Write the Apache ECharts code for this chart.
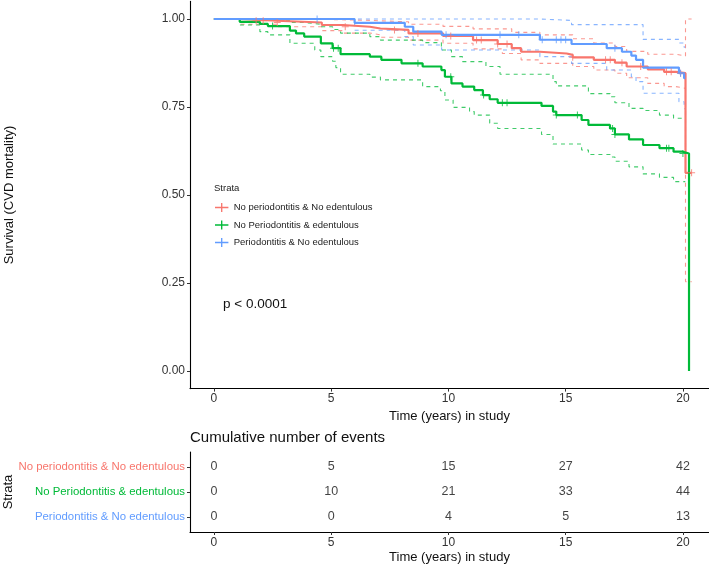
<!DOCTYPE html>
<html>
<head>
<meta charset="utf-8">
<script src="https://cdn.jsdelivr.net/npm/echarts@6/dist/echarts.min.js"></script>
<style>html,body{margin:0;padding:0;background:#fff}#c{width:709px;height:566px}</style>
</head>
<body>
<div id="c"></div>
<script>
// ---------------- data ----------------
const groupNames = ['No periodontitis & No edentulous', 'No Periodontitis & edentulous', 'Periodontitis & No edentulous'];
const groupColors = ['#F8766D', '#00BA38', '#619CFF'];

// Kaplan-Meier step curves: [time, survival]
const redCurve = [[0,1],[1.1,0.995],[2.67,0.990],[4.6,0.983],[5.5,0.978],[6.65,0.973],[7.1,0.969],[8.3,0.959],[9.77,0.952],[11.05,0.940],[12.1,0.929],[12.7,0.917],[13.1,0.907],[13.9,0.902],[15.04,0.898],[15.3,0.891],[16.2,0.884],[17.1,0.876],[17.6,0.865],[18.5,0.857],[19.2,0.850],[19.7,0.846],[20.11,0.563],[20.37,0.563]];
const redUpper = [[0,1],[2.67,0.999],[4.6,0.996],[6.65,0.992],[8.3,0.985],[9.77,0.979],[11.05,0.972],[12.7,0.962],[13.9,0.955],[15.3,0.944],[16.2,0.932],[17.1,0.922],[17.6,0.908],[18.5,0.900],[19.7,0.895],[20.11,1.0],[20.37,1.0]];
const redLower = [[0,1],[1.1,0.985],[2.67,0.978],[4.6,0.967],[5.5,0.960],[6.65,0.955],[7.1,0.948],[8.3,0.940],[9.77,0.931],[11.05,0.915],[12.3,0.902],[13.1,0.884],[13.9,0.874],[15.3,0.865],[16.2,0.855],[17.1,0.846],[17.6,0.833],[18.5,0.817],[19.2,0.808],[19.7,0.803],[20.11,0.254],[20.37,0.254]];
const redCensor = [1.8,2.1,2.7,5.6,7.7,8.7,10.1,11.2,11.4,12.1,12.5,15.3,16.7,16.9,17.4,18.2,19.3,19.5,19.9,20.37];

const greenCurve = [[0,1],[1.1,0.992],[1.96,0.986],[2.3,0.980],[3.24,0.967],[3.5,0.959],[3.85,0.950],[4.56,0.931],[5.06,0.917],[5.4,0.900],[6.65,0.893],[7.14,0.884],[8.0,0.874],[8.9,0.865],[9.7,0.855],[9.85,0.836],[10.13,0.817],[10.6,0.808],[11.1,0.798],[11.47,0.784],[11.76,0.772],[12.1,0.762],[13.97,0.753],[14.46,0.737],[14.6,0.727],[15.68,0.713],[15.97,0.699],[16.89,0.689],[17.1,0.672],[17.7,0.658],[18.3,0.642],[19.0,0.633],[19.6,0.623],[20.0,0.618],[20.26,0]];
const greenUpper = [[0,1],[1.1,0.999],[2.3,0.996],[3.24,0.990],[3.85,0.985],[4.56,0.978],[5.06,0.970],[5.4,0.960],[6.65,0.950],[7.1,0.940],[8.9,0.933],[9.7,0.912],[10.13,0.893],[10.6,0.879],[11.6,0.865],[12.2,0.843],[14.46,0.822],[14.6,0.810],[15.97,0.788],[16.89,0.779],[17.1,0.762],[17.7,0.746],[18.3,0.740],[19.0,0.727],[19.6,0.718],[20.1,0.718]];
const greenLower = [[0,1],[1.1,0.983],[1.96,0.964],[2.3,0.955],[3.24,0.931],[4.3,0.912],[4.56,0.893],[5.06,0.880],[5.2,0.862],[5.4,0.843],[6.65,0.835],[7.1,0.827],[8.9,0.808],[9.66,0.796],[9.85,0.770],[10.2,0.749],[10.9,0.737],[11.1,0.727],[11.76,0.704],[12.1,0.689],[13.97,0.672],[14.46,0.645],[15.68,0.628],[15.97,0.615],[16.89,0.608],[17.1,0.596],[17.7,0.580],[18.3,0.560],[19.0,0.550],[19.6,0.538],[20.1,0.538]];
const greenCensor = [2.5,5.1,5.3,8.7,10.1,11.5,12.3,12.5,14.6,15.5,17.0,17.1,19.3,19.4,20.0];

const blueCurve = [[0,1],[6.0,0.989],[8.14,0.978],[8.5,0.964],[9.71,0.955],[13.9,0.941],[15.25,0.929],[16.75,0.917],[17.4,0.907],[17.8,0.896],[18.0,0.884],[18.3,0.862],[19.83,0.846],[20.05,0.832],[20.1,0.832]];
const blueUpper = [[0,1],[13.9,0.996],[15.25,0.984],[18.3,0.942],[19.83,0.932],[20.05,0.920],[20.1,0.920]];
const blueLower = [[0,1],[6.0,0.968],[8.14,0.950],[8.5,0.926],[9.71,0.912],[13.9,0.893],[15.25,0.874],[16.75,0.855],[17.8,0.836],[18.0,0.822],[18.3,0.789],[19.83,0.765],[20.05,0.745],[20.1,0.745]];
const blueCensor = [4.4,9.9,12.2,13.0,14.0,14.6,14.8,15.0,17.1,19.9];

// risk table (cumulative number of events)
const tableTimes = [0,5,10,15,20];
const redEvents = [0,5,15,27,42];
const greenEvents = [0,10,21,33,44];
const blueEvents = [0,0,4,5,13];

const xTicks = [0,5,10,15,20];
const yTicks = [0,0.25,0.5,0.75,1];

// ---------------- chart ----------------
const FONT = '"Liberation Sans", Arial, sans-serif';
const X_MIN = -1.02, X_MAX = 21.112;
const PLUS = 'path://M3,0h1v7h-1zM0,3h7v1h-7z';
const LEG_ICON = 'path://M0,4h14v1.4h-14zM6.3,0h1.4v9.4h-1.4z';

function stepAt(curve, t) {
  let v = curve[0][1];
  for (const p of curve) { if (p[0] <= t) v = p[1]; }
  return v;
}

const curves = [
  {solid: redCurve, up: redUpper, lo: redLower, cens: redCensor},
  {solid: greenCurve, up: greenUpper, lo: greenLower, cens: greenCensor},
  {solid: blueCurve, up: blueUpper, lo: blueLower, cens: blueCensor}
];
const events = [redEvents, greenEvents, blueEvents];

const series = [];
curves.forEach((c, i) => {
  ['up','lo'].forEach(k => series.push({
    type: 'line', name: groupNames[i] + ' CI ' + k, step: 'end', showSymbol: false,
    xAxisIndex: 0, yAxisIndex: 0, data: c[k], z: 2, silent: true,
    lineStyle: {color: groupColors[i], width: 1.1, type: [4, 4], opacity: 0.75}
  }));
});
curves.forEach((c, i) => {
  series.push({
    type: 'line', name: groupNames[i], step: 'end', showSymbol: false,
    xAxisIndex: 0, yAxisIndex: 0, data: c.solid, z: 3,
    color: groupColors[i],
    lineStyle: {color: groupColors[i], width: 2.2}
  });
  series.push({
    type: 'scatter', name: groupNames[i], xAxisIndex: 0, yAxisIndex: 0, z: 4,
    symbol: PLUS, symbolSize: 7, itemStyle: {color: groupColors[i]},
    data: c.cens.map(t => [t, stepAt(c.solid, t)])
  });
});
events.forEach((ev, i) => {
  series.push({
    type: 'scatter', name: 'table ' + i, xAxisIndex: 1, yAxisIndex: 1, symbolSize: 0,
    data: tableTimes.map((t, j) => [t, i + 1, ev[j]]),
    label: {show: true, position: 'inside', formatter: p => String(p.value[2]),
      fontSize: 12.5, color: '#111', fontFamily: FONT}
  });
});

function xAxis(gridIndex, margin, nameGap) {
  return {
    type: 'value', gridIndex, min: X_MIN, max: X_MAX,
    axisLine: {show: true, onZero: false, lineStyle: {color: '#000', width: 1.1}},
    axisTick: {show: true, length: 3, customValues: xTicks, lineStyle: {color: '#333'}},
    axisLabel: {customValues: xTicks, margin: margin, fontSize: 12, color: '#333', fontFamily: FONT},
    splitLine: {show: false},
    name: 'Time (years) in study', nameLocation: 'middle', nameGap: nameGap,
    nameTextStyle: {fontSize: 13, color: '#111', fontFamily: FONT}
  };
}

const chart = echarts.init(document.getElementById('c'), null, {renderer: 'canvas'});
chart.setOption({
  animation: false,
  backgroundColor: '#fff',
  grid: [
    {left: 190, top: 1.4, width: 519, height: 387.2, outerBoundsMode: 'none', containLabel: false},
    {left: 190, top: 452, width: 519, height: 80, outerBoundsMode: 'none', containLabel: false}
  ],
  xAxis: [xAxis(0, 4, 16.5), xAxis(1, 5, 19)],
  yAxis: [
    {
      type: 'value', gridIndex: 0, min: -0.05, max: 1.05,
      axisLine: {show: true, onZero: false, lineStyle: {color: '#000', width: 1.1}},
      axisTick: {show: true, length: 3, customValues: yTicks, lineStyle: {color: '#333'}},
      axisLabel: {customValues: yTicks, margin: 5, fontSize: 12, color: '#333', fontFamily: FONT,
        formatter: v => Number(v).toFixed(2)},
      splitLine: {show: false},
      name: 'Survival (CVD mortality)', nameLocation: 'middle', nameGap: 174, nameRotate: 90,
      nameTextStyle: {fontSize: 13, color: '#111', fontFamily: FONT}
    },
    {
      type: 'value', gridIndex: 1, min: 0.4, max: 3.6, inverse: true,
      axisLine: {show: true, onZero: false, lineStyle: {color: '#000', width: 1.1}},
      axisTick: {show: true, length: 3, customValues: [1,2,3], lineStyle: {color: '#333'}},
      axisLabel: {customValues: [1,2,3], margin: 5, fontFamily: FONT,
        formatter: v => '{g' + (Math.round(v) - 1) + '|' + groupNames[Math.round(v) - 1] + '}',
        rich: {
          g0: {color: groupColors[0], fontSize: 11.4, fontFamily: FONT},
          g1: {color: groupColors[1], fontSize: 11.4, fontFamily: FONT},
          g2: {color: groupColors[2], fontSize: 11.4, fontFamily: FONT}
        }},
      splitLine: {show: false}
    }
  ],
  legend: {
    orient: 'vertical', left: 215, top: 202.5, padding: 0, itemWidth: 14, itemHeight: 9, itemGap: 7.5,
    selectedMode: false,
    data: groupNames.map((n, i) => ({name: n, icon: LEG_ICON, itemStyle: {color: groupColors[i]}})),
    textStyle: {fontSize: 9.5, color: '#222', fontFamily: FONT, padding: [0, 0, 0, 0]}
  },
  graphic: [
    {type: 'text', left: 214, top: 183.5, style: {text: 'Strata', fontSize: 9.5, fill: '#222', fontFamily: FONT}},
    {type: 'text', left: 223, top: 297, style: {text: 'p < 0.0001', fontSize: 13.5, fill: '#111', fontFamily: FONT}},
    {type: 'text', left: 190, top: 430, style: {text: 'Cumulative number of events', fontSize: 15, fill: '#111', fontFamily: FONT}},
    {type: 'text', x: 8, y: 492, rotation: Math.PI / 2,
      style: {text: 'Strata', fontSize: 13, fill: '#111', fontFamily: FONT, align: 'center', verticalAlign: 'middle'}}
  ],
  series
});
</script>
</body>
</html>
